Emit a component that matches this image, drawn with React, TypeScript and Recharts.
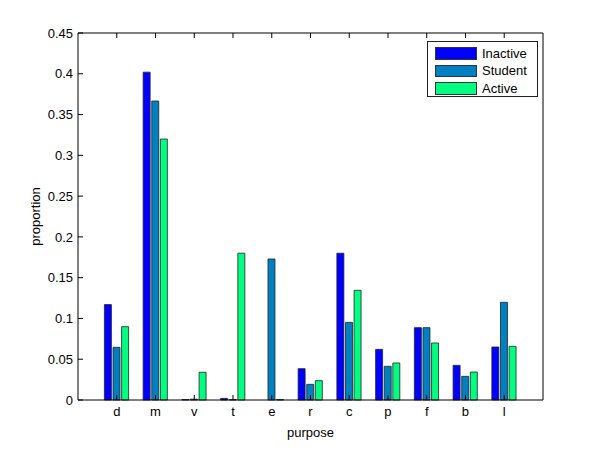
import React from 'react';
import { BarChart, Bar, XAxis, YAxis, Legend } from 'recharts';

const purposes = ['d', 'm', 'v', 't', 'e', 'r', 'c', 'p', 'f', 'b', 'l'];
const inactive = [0.117, 0.402, 0.0005, 0.002, 0, 0.0384, 0.18, 0.0621, 0.0887, 0.0425, 0.065];
const student = [0.0646, 0.3666, 0.001, 0.0005, 0.1729, 0.0192, 0.0952, 0.0413, 0.0887, 0.029, 0.1198];
const active = [0.0899, 0.32, 0.034, 0.18, 0.0005, 0.0237, 0.1345, 0.0454, 0.0699, 0.0343, 0.0658];
const yTicks = [0, 0.05, 0.1, 0.15, 0.2, 0.25, 0.3, 0.35, 0.4, 0.45];

const seriesNames = ['Inactive', 'Student', 'Active'];
const seriesKeys = ['inactive', 'student', 'active'];
const seriesColors = ['#0000ff', '#0080c0', '#00ff80'];

const data = purposes.map((p, i) => ({
  purpose: p,
  inactive: inactive[i],
  student: student[i],
  active: active[i],
}));

const FONT = '"Liberation Sans", Arial, Helvetica, sans-serif';
const FS = 13;
const fmt = (v: number) => String(Number(v.toFixed(2)));

const LegendBox = () => (
  <div
    style={{
      border: '1px solid #222',
      background: '#fff',
      width: 111,
      height: 56,
      boxSizing: 'border-box',
      padding: '2.5px 0 0 7px',
      fontFamily: FONT,
      fontSize: FS,
      color: '#000',
      lineHeight: 1,
    }}
  >
    {seriesNames.map((n, i) => (
      <div key={n} style={{ display: 'flex', alignItems: 'center', height: 17.5 }}>
        <div
          style={{
            width: 42,
            height: 12.5,
            background: seriesColors[i],
            border: '1px solid #333',
            boxSizing: 'border-box',
            marginRight: 5,
          }}
        />
        <span>{n}</span>
      </div>
    ))}
  </div>
);

export default function App() {
  return (
    <div style={{ position: 'absolute', left: 0, top: 0, width: 600, height: 450, background: '#fff' }}>
      <BarChart
        width={600}
        height={450}
        data={data}
        margin={{ top: 32, right: 56, bottom: 10, left: 0 }}
        barSize={7}
        barGap={1.6}
      >
        <XAxis
          dataKey="purpose"
          type="category"
          padding={{ left: 19.4, right: 19.4 }}
          height={40}
          tickSize={-5}
          tickMargin={12}
          stroke="#000"
          tick={{ fill: '#000', fontSize: FS, fontFamily: FONT }}
          label={{ value: 'purpose', position: 'insideBottom', offset: 3, fill: '#000', fontSize: FS, fontFamily: FONT }}
        />
        <XAxis
          xAxisId="top"
          dataKey="purpose"
          type="category"
          orientation="top"
          padding={{ left: 19.4, right: 19.4 }}
          height={1}
          tickSize={-5}
          tickFormatter={() => ''}
          stroke="#000"
        />
        <YAxis
          type="number"
          domain={[0, 0.45]}
          ticks={yTicks}
          width={78}
          tickSize={-5}
          tickMargin={10}
          tickFormatter={fmt}
          stroke="#000"
          interval={0}
          tick={{ fill: '#000', fontSize: FS, fontFamily: FONT }}
          label={{
            content: (props: any) => {
              const vb = props.viewBox || {};
              const cx = 35;
              const cy = (vb.y || 0) + (vb.height || 0) / 2;
              return (
                <text
                  x={cx}
                  y={cy}
                  transform={`rotate(-90, ${cx}, ${cy})`}
                  textAnchor="middle"
                  dominantBaseline="central"
                  fill="#000"
                  fontSize={FS}
                  fontFamily={FONT}
                >
                  proportion
                </text>
              );
            },
          }}
        />
        <YAxis
          yAxisId="right"
          orientation="right"
          type="number"
          domain={[0, 0.45]}
          ticks={yTicks}
          width={1}
          tickSize={-5}
          tickFormatter={() => ''}
          stroke="#000"
          interval={0}
        />
        <Legend
          layout="horizontal"
          verticalAlign="middle"
          align="center"
          content={() => <LegendBox />}
          wrapperStyle={{ position: 'absolute', left: 427, top: 41, width: 111, height: 56 }}
        />
        {seriesKeys.map((k, i) => (
          <Bar
            key={k}
            dataKey={k}
            name={seriesNames[i]}
            fill={seriesColors[i]}
            stroke="#222"
            strokeWidth={0.8}
            isAnimationActive={false}
          />
        ))}
      </BarChart>
    </div>
  );
}
